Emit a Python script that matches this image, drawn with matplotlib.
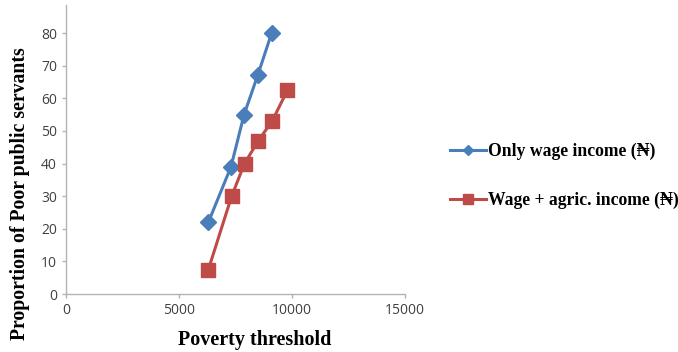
import matplotlib
matplotlib.use("Agg")
import matplotlib.pyplot as plt

# Poverty threshold vs share of poor public servants
wage_x = [6300, 7300, 7880, 8480, 9100]
wage_y = [22, 39, 55, 67, 80]
agric_x = [6300, 7330, 7900, 8510, 9120, 9800]
agric_y = [7.5, 30, 40, 47, 53, 62.5]

wage_label = "Only wage income (\u20a6)"
agric_label = "Wage + agric. income (\u20a6)"
x_ticks = [0, 5000, 10000, 15000]
y_ticks = [0, 10, 20, 30, 40, 50, 60, 70, 80]

BLUE = "#4A7EBB"
RED = "#BE4B48"
AXIS_GREY = "#B3B3B3"
SERIF = ["Liberation Serif", "DejaVu Serif", "DejaVu Sans"]

fig = plt.figure(figsize=(6.78, 3.52), dpi=100)
ax = fig.add_axes([66 / 678, 1 - 294 / 352, (405 - 66) / 678, (294 - 5) / 352])

ax.plot(wage_x, wage_y, "-", color=BLUE, linewidth=2.2, marker="D",
        markersize=8.5, label=wage_label)
ax.plot(agric_x, agric_y, "-", color=RED, linewidth=2.2, marker="s",
        markersize=10, label=agric_label)

ax.set_xlim(0, 15000)
ax.set_ylim(0, 88.6)
ax.set_xticks(x_ticks)
ax.set_yticks(y_ticks)

for side in ("top", "right"):
    ax.spines[side].set_visible(False)
for side in ("left", "bottom"):
    ax.spines[side].set_color(AXIS_GREY)
    ax.spines[side].set_linewidth(1.0)
ax.tick_params(colors=AXIS_GREY, length=3, width=1.0, labelcolor="#404040",
               labelsize=10)
for lbl in ax.get_xticklabels() + ax.get_yticklabels():
    lbl.set_family(["Open Sans", "DejaVu Sans"])

fig.text(255 / 678, 1 - 340 / 352, "Poverty threshold", ha="center",
         va="center", fontsize=14.5, fontweight="bold", family=SERIF)
fig.text(20 / 678, 1 - 194 / 352, "Proportion of Poor public servants",
         ha="center", va="center", rotation=90, fontsize=14.2,
         fontweight="bold", family=SERIF)

handles, labels = ax.get_legend_handles_labels()
leg = fig.legend(handles, labels, loc="center left",
                 bbox_to_anchor=(450 / 678, 1 - 176 / 352),
                 frameon=False, handlelength=2.05, handletextpad=0.1,
                 labelspacing=1.8, borderaxespad=0, borderpad=0,
                 prop={"family": SERIF, "weight": "bold", "size": 12.7})
for h in leg.legend_handles:
    h.set_markersize(5 if h.get_marker() == "D" else 6.5)

fig.savefig("out.png", dpi=100)
